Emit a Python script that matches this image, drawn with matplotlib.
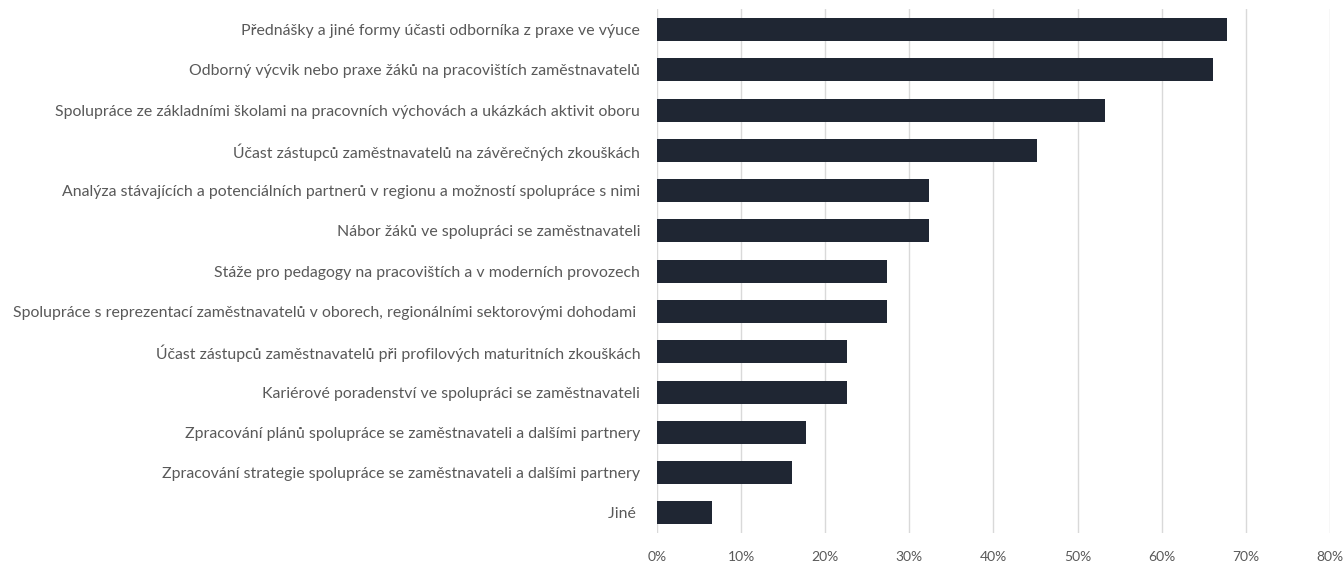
import numpy as np
from matplotlib import pyplot as plt

# odpovedi (n = 62), razeno shora dolu
labels = [
    "Přednášky a jiné formy účasti odborníka z praxe ve výuce",
    "Odborný výcvik nebo praxe žáků na pracovištích zaměstnavatelů",
    "Spolupráce ze základními školami na pracovních výchovách a ukázkách aktivit oboru",
    "Účast zástupců zaměstnavatelů na závěrečných zkouškách",
    "Analýza stávajících a potenciálních partnerů v regionu a možností spolupráce s nimi",
    "Nábor žáků ve spolupráci se zaměstnavateli",
    "Stáže pro pedagogy na pracovištích a v moderních provozech",
    "Spolupráce s reprezentací zaměstnavatelů v oborech, regionálními sektorovými dohodami ",
    "Účast zástupců zaměstnavatelů při profilových maturitních zkouškách",
    "Kariérové poradenství ve spolupráci se zaměstnavateli",
    "Zpracování plánů spolupráce se zaměstnavateli a dalšími partnery",
    "Zpracování strategie spolupráce se zaměstnavateli a dalšími partnery",
    "Jiné ",
]
values = [0.677, 0.661, 0.532, 0.452, 0.323, 0.323, 0.274, 0.274, 0.226, 0.226, 0.177, 0.161, 0.065]
xticks = [0, 0.1, 0.2, 0.3, 0.4, 0.5, 0.6, 0.7, 0.8]
xticklabels = ["0%", "10%", "20%", "30%", "40%", "50%", "60%", "70%", "80%"]

plt.rcParams['font.family'] = ['Lato', 'DejaVu Sans']

fig = plt.figure(figsize=(13.43, 5.62), dpi=100)
ax = fig.add_axes([0.4892, 0.0516, 0.5011, 0.9317])

y = np.arange(len(labels))
ax.barh(y, values, height=0.57, color="#1f2633", zorder=3)
ax.set_ylim(len(labels) - 0.5, -0.5)
ax.set_xlim(0, 0.8)

ax.set_yticks(y)
ax.set_yticklabels(labels, fontsize=11.4, color="#595959")
ax.set_xticks(xticks)
ax.set_xticklabels(xticklabels, fontsize=10, color="#595959")
ax.tick_params(axis="y", length=0, pad=12)
ax.tick_params(axis="x", length=0, pad=13)

ax.grid(axis="x", color="#d9d9d9", linewidth=1, zorder=0)
for s in ax.spines.values():
    s.set_visible(False)

fig.savefig("out.png", dpi=100)
